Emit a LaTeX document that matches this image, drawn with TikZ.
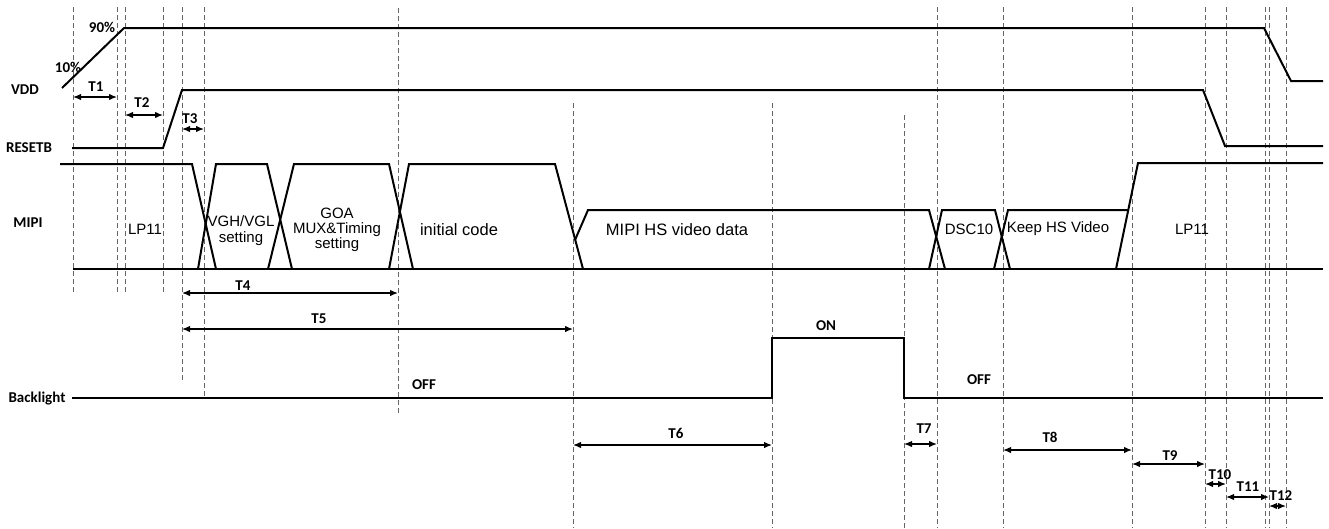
\documentclass[tikz,border=0pt]{standalone}
\usepackage{fontspec}
\setmainfont{Liberation Sans}
\newfontfamily\calfont{Carlito}
\usetikzlibrary{arrows.meta}
\begin{document}
\begin{tikzpicture}[x=1pt,y=-1pt,
 sig/.style={line width=2pt, line join=miter},
 guide/.style={line width=1pt, draw=black!60, dash pattern=on 5pt off 3pt},
 dim/.style={line width=1.3pt, {Latex[length=8pt,width=6.5pt]}-{Latex[length=8pt,width=6.5pt]}},
 lbl/.style={font=\calfont\bfseries\fontsize{15}{17}\selectfont, inner sep=0pt},
 txt/.style={font=\fontsize{15}{17}\selectfont, inner sep=0pt, align=center},
 bigtxt/.style={font=\fontsize{16.5}{18}\selectfont, inner sep=0pt},
]
\useasboundingbox (0,0) rectangle (1329,528);
% guide lines
\foreach \x/\a/\b in {73/7/292,117/7/292,125/7/292,163/7/292,182/7/383,204/7/398,398/8/413,
  573/103/528,772/103/528,904/115/528,937/7/528,1003/7/528,1132/7/528,1205/7/528,1226/7/528,
  1265/7/528,1269/7/528,1286/7/528}
  \draw[guide] (\x,\a) -- (\x,\b);
% VDD
\draw[sig] (62,88) -- (124,28) -- (1264,28) -- (1291,81) -- (1323,81);
% RESETB
\draw[sig] (72,148) -- (163,148) -- (182,90) -- (1203,90) -- (1225,146) -- (1323,146);
% MIPI
\draw[sig] (60,164) -- (192,164) -- (216,269);
\draw[sig] (198,269) -- (216,164) -- (267,164) -- (292,269);
\draw[sig] (268,269) -- (294,164) -- (389,164) -- (413,269);
\draw[sig] (389,269) -- (409,164) -- (555,164) -- (583,269);
\draw[sig] (575,240) -- (588,210) -- (929,210) -- (945,269);
\draw[sig] (929,269) -- (942,210) -- (995,210) -- (1010,269);
\draw[sig] (994,269) -- (1008,210) -- (1128,210);
\draw[sig] (1116,269) -- (1138,163) -- (1323,163);
\draw[sig] (73,269) -- (1323,269);
% Backlight
\draw[sig] (72,398) -- (772,398) -- (772,338) -- (904,338) -- (904,398) -- (1323,398);
% labels
\node[lbl] (l90) at (102,27) {90\%};
\node[lbl] (l10) at (68,67) {10\%};
\node[lbl] (lvdd) at (25,90) {VDD};
\node[lbl] (lrst) at (29,148) {RESETB};
\node[lbl] (lmipi) at (28,223) {MIPI};
\node[lbl] (lbl) at (37,398) {Backlight};
\node[lbl] (off1) at (424,385) {OFF};
\node[lbl] (on) at (826,326) {ON};
\node[lbl] (off2) at (979,380) {OFF};
% MIPI texts
\node[txt] (lp1) at (145,229) {LP11};
\node[txt] (vgh) at (241,231) {VGH/VGL\\[-1pt]setting};
\node[txt] (goa) at (337,230) {GOA\\[-2pt]MUX\&Timing\\[-2pt]setting};
\node[bigtxt] (ini) at (459,230) {initial code};
\node[bigtxt] (hs) at (677,230) {MIPI HS video data};
\node[txt] (dsc) at (969,229) {DSC10};
\node[txt] (keep) at (1058,229) {Keep HS Video};
\node[txt] (lp2) at (1192,229) {LP11};
% dimension arrows
\coordinate (t1a) at (73,97);   \coordinate (t1b) at (117,97);
\coordinate (t2a) at (125,115); \coordinate (t2b) at (163,115);
\coordinate (t3a) at (182,129); \coordinate (t3b) at (204,129);
\coordinate (t4a) at (182,293); \coordinate (t4b) at (398,293);
\coordinate (t5a) at (182,329); \coordinate (t5b) at (573,329);
\coordinate (t6a) at (573,445); \coordinate (t6b) at (772,445);
\coordinate (t7a) at (904,444); \coordinate (t7b) at (937,444);
\coordinate (t8a) at (1003,450); \coordinate (t8b) at (1132,450);
\coordinate (t9a) at (1132,464); \coordinate (t9b) at (1205,464);
\coordinate (t10a) at (1205,484); \coordinate (t10b) at (1226,484);
\coordinate (t11a) at (1226,497); \coordinate (t11b) at (1269,497);
\coordinate (t12a) at (1269,506); \coordinate (t12b) at (1286,506);
\foreach \i in {1,...,12} \draw[dim] (t\i a) -- (t\i b);
\node[lbl] (T1) at (96,87) {T1};
\node[lbl] (T2) at (142,103) {T2};
\node[lbl] (T3) at (190,119) {T3};
\node[lbl] (T4) at (243,286) {T4};
\node[lbl] (T5) at (319,319) {T5};
\node[lbl] (T6) at (676,433) {T6};
\node[lbl] (T7) at (924,429) {T7};
\node[lbl] (T8) at (1050,437) {T8};
\node[lbl] (T9) at (1170,456) {T9};
\node[lbl] (T10) at (1220,475) {T10};
\node[lbl] (T11) at (1248,487) {T11};
\node[lbl] (T12) at (1281,496) {T12};
\end{tikzpicture}
\end{document}
